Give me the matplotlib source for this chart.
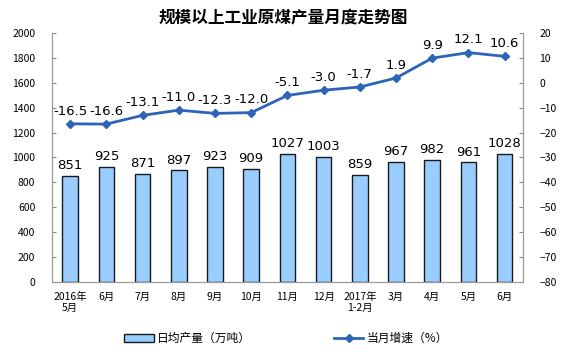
import matplotlib
matplotlib.use("Agg")
import matplotlib.pyplot as plt
from matplotlib.patches import Patch
from matplotlib.lines import Line2D

plt.rcParams['font.family'] = ['Noto Sans CJK SC', 'DejaVu Sans']

categories = ["2016年\n5月", "6月", "7月", "8月", "9月", "10月", "11月", "12月",
              "2017年\n1-2月", "3月", "4月", "5月", "6月"]
output = [851, 925, 871, 897, 923, 909, 1027, 1003, 859, 967, 982, 961, 1028]
growth = [-16.5, -16.6, -13.1, -11.0, -12.3, -12.0, -5.1, -3.0, -1.7, 1.9, 9.9, 12.1, 10.6]
left_ticks = list(range(0, 2001, 200))
right_ticks = list(range(-80, 21, 10))

bar_color = "#99CCFF"
line_color = "#2E64B8"

fig = plt.figure(figsize=(5.67, 3.58), dpi=100)
ax = fig.add_axes([0.0917, 0.2123, 0.8303, 0.6957])
ax2 = ax.twinx()

x = list(range(len(categories)))
ax.bar(x, output, width=0.43, color=bar_color, edgecolor="#1A1A1A", linewidth=1.0, zorder=2)
for xi, v in zip(x, output):
    ax.text(xi, v + 30, f"{v}", ha="center", va="bottom", fontsize=9.5, family="DejaVu Sans")

ax2.plot(x, growth, color=line_color, linewidth=2, marker="D", markersize=4.5, zorder=3)
for xi, v in zip(x, growth):
    ax2.text(xi, v + 2.5, f"{v:.1f}", ha="center", va="bottom", fontsize=9.5, family="DejaVu Sans")

ax.set_xlim(-0.5, len(categories) - 0.5)
ax.set_ylim(0, 2000)
ax2.set_ylim(-80, 20)
ax.set_yticks(left_ticks)
ax2.set_yticks(right_ticks)
ax.set_xticks(x)
ax.set_xticklabels(categories, fontsize=7.5)
ax.tick_params(axis="y", direction="in", labelsize=7.5, length=3, color="#888888", pad=12)
ax2.tick_params(axis="y", direction="in", labelsize=7.5, length=3, color="#888888", pad=12)
ax.tick_params(axis="x", length=0, pad=7)
for a in (ax, ax2):
    a.spines["top"].set_visible(False)
    for s in ("left", "right", "bottom"):
        a.spines[s].set_color("#999999")
        a.spines[s].set_linewidth(0.8)

fig.text(0.5, 0.95, "规模以上工业原煤产量月度走势图", ha="center", va="center", fontsize=12, fontweight="bold")

handles = [Patch(facecolor=bar_color, edgecolor="#1A1A1A", label="日均产量（万吨）"),
           Line2D([0], [0], color=line_color, linewidth=2, marker="D", markersize=4, label="当月增速（%）")]
fig.legend(handles=handles, loc="center", bbox_to_anchor=(0.505, 0.055), ncol=2, frameon=False,
           fontsize=8.5, columnspacing=7, handlelength=2.5, handletextpad=0.3)

fig.savefig("out.png", dpi=100)
